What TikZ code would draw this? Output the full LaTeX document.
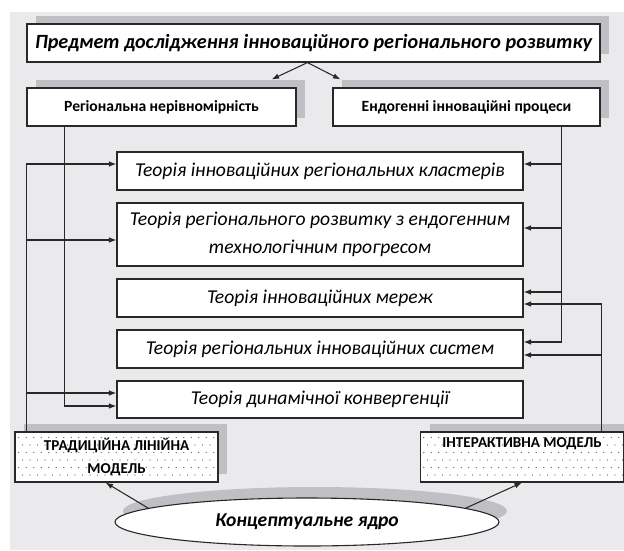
\documentclass[tikz,border=0pt]{standalone}
\usepackage{fontspec}
\setmainfont{Carlito}
\usetikzlibrary{shapes,arrows.meta}
\usetikzlibrary{positioning,calc}
\usetikzlibrary{shadows,patterns.meta}

\definecolor{bggray}{RGB}{234,234,236}
\definecolor{shgray}{RGB}{192,192,196}
\definecolor{linegray}{RGB}{40,40,40}

\tikzdeclarepattern{name=sparsedots, type=uncolored,
  bottom left={(-1pt,-1pt)}, top right={(6.5pt,14pt)},
  tile size={(7.5pt,15pt)},
  code={\fill (0pt,0pt) circle (0.55pt); \fill (3.75pt,7.5pt) circle (0.55pt);}}

\begin{document}
\begin{tikzpicture}[x=1pt,y=-1pt,>={Latex[length=7.5pt,width=5.5pt]},
  box/.style={draw=linegray,line width=1.1pt,fill=white,inner sep=0pt,align=center},
  shade/.style={drop shadow={shadow xshift=9pt,shadow yshift=8.5pt,opacity=1,fill=shgray}},
  head/.style={box,shade,minimum height=38,font=\bfseries\itshape\fontsize{20.2}{23}\selectfont},
  factor/.style={box,shade,minimum height=38,font=\bfseries\fontsize{15.6}{18}\selectfont},
  theory/.style={box,minimum width=406,font=\itshape\fontsize{19.6}{28}\selectfont},
  model/.style={draw=linegray,line width=1.1pt,inner sep=0pt,align=center,shade,
    preaction={fill=white},pattern=sparsedots,pattern color=black!65,
    minimum width=203,minimum height=50,font=\bfseries\fontsize{15.1}{23}\selectfont},
  kernel/.style={ellipse,box,minimum width=384,minimum height=48,
    drop shadow={shadow xshift=8pt,shadow yshift=11pt,opacity=1,fill=shgray},
    font=\bfseries\itshape\fontsize{19.6}{22}\selectfont},
  conn/.style={draw=linegray,line width=1.05pt}]

  \useasboundingbox (0,0) rectangle (624,550);
  \fill[bggray] (10,12) rectangle (624,550);

  % top level
  \node[head,minimum width=573] (subj) at (313.5,43) {Предмет дослідження інноваційного регіонального розвитку};
  \node[factor,minimum width=269] (uneven) at (161.5,107) {Регіональна нерівномірність};
  \node[factor,minimum width=267] (endo) at (466.5,107) {Ендогенні інноваційні процеси};

  % theories
  \node[theory,minimum height=38] (clust) at (320,171) {Теорія інноваційних регіональних кластерів};
  \node[theory,minimum height=63] (growth) at (320,234.5) {Теорія регіонального розвитку з ендогенним\\технологічним прогресом};
  \node[theory,minimum height=38] (net) at (320,298) {Теорія інноваційних мереж};
  \node[theory,minimum height=38] (sys) at (320,349) {Теорія регіональних інноваційних систем};
  \node[theory,minimum height=37] (conv) at (320,399.5) {Теорія динамічної конвергенції};

  % models
  \node[model] (linear) at (116.5,457) {ТРАДИЦІЙНА ЛІНІЙНА\\МОДЕЛЬ};
  \node[model] (inter) at (522,457) {ІНТЕРАКТИВНА МОДЕЛЬ\\\strut};
  \node[kernel] (core) at (307,522) {Концептуальне ядро};

  \draw[conn,->] ([xshift=-6pt]subj.south) -- ($(uneven.north east)+(-25,-8)$);
  \draw[conn,->] ([xshift=-6pt]subj.south) -- ($(endo.north west)+(8,-8)$);

  % left trunks
  \coordinate (la) at ($(linear.north west)+(12,0)$);
  \coordinate (lb) at ($(uneven.south west)+(38,0)$);
  \coordinate (clustl) at ($(clust.west)+(0,-7)$);
  \coordinate (growthl) at ($(growth.west)+(0,5.5)$);
  \coordinate (convla) at ($(conv.west)+(0,-6.5)$);
  \coordinate (convlb) at ($(conv.west)+(0,6.5)$);
  \draw[conn,->] (la) |- (clustl);
  \draw[conn,->] (la |- growthl) -- (growthl);
  \draw[conn,->] (la |- convla) -- (convla);
  \draw[conn,->] (lb) |- (convlb);

  % right trunks
  \coordinate (rc) at ($(endo.south east)+(-39,0)$);
  \coordinate (rd) at ($(inter.north east)+(-23,0)$);
  \coordinate (clustr) at ($(clust.east)+(0,-7)$);
  \coordinate (growthr) at ($(growth.east)+(0,-6.5)$);
  \coordinate (netra) at ($(net.east)+(0,-6)$);
  \coordinate (netrb) at ($(net.east)+(0,6)$);
  \coordinate (sysra) at ($(sys.east)+(0,-7)$);
  \coordinate (sysrb) at ($(sys.east)+(0,6)$);
  \draw[conn,->] (rc) |- (sysra);
  \draw[conn,->] (rc |- clustr) -- (clustr);
  \draw[conn,->] (rc |- growthr) -- (growthr);
  \draw[conn,->] (rc |- netra) -- (netra);
  \draw[conn,->] (rd) |- (netrb);
  \draw[conn,->] (rd |- sysrb) -- (sysrb);

  % core
  \draw[conn,->] (core.175) -- ($(linear.south)+(-11,0)$);
  \draw[conn,->] (core.5) -- (inter.south);

\end{tikzpicture}
\end{document}
